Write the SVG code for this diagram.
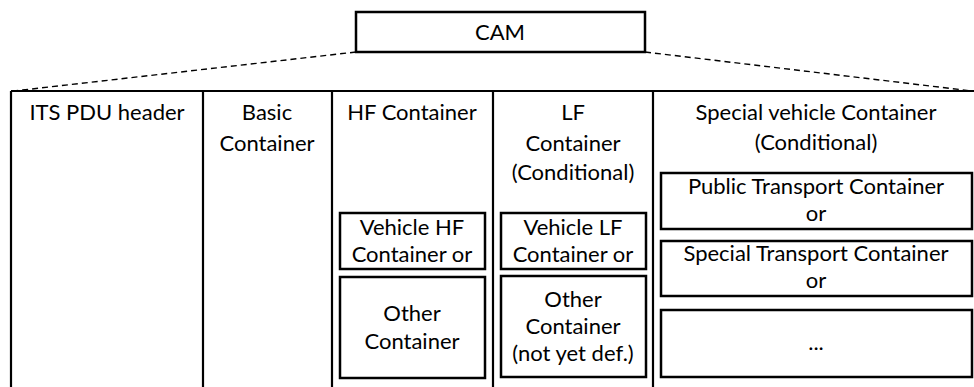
<svg xmlns="http://www.w3.org/2000/svg" width="974" height="387" viewBox="0 0 974 387">
<style>
.box{fill:#fff;stroke:#000;stroke-width:2.5}
.line{fill:none;stroke:#000;stroke-width:2.2}
.dash{fill:none;stroke:#000;stroke-width:1.4;stroke-dasharray:6 4}
text{font-family:Lato,"Open Sans",sans-serif;font-size:22px;fill:#000;text-anchor:middle}
</style>
<rect width="974" height="387" fill="#fff"/>
<g id="connectors">
<line class="dash" x1="356" y1="52" x2="14" y2="91"/>
<line class="dash" x1="645" y1="52" x2="972" y2="91"/>
</g>
<g id="cam">
<rect class="box" x="356" y="12" width="289" height="40"/>
<text x="500" y="40">CAM</text>
</g>
<g id="table">
<path class="line" d="M11 91H976M11 91V390M203 91V390M332 91V390M493 91V390M653 91V390"/>
</g>
<g id="its-pdu-header">
<text x="107" y="120">ITS PDU header</text>
</g>
<g id="basic-container">
<text x="267" y="120">Basic</text>
<text x="267" y="151">Container</text>
</g>
<g id="hf-container">
<text x="412" y="120">HF Container</text>
</g>
<g id="vehicle-hf">
<rect class="box" x="340" y="213" width="145" height="56"/>
<text x="412" y="235">Vehicle HF</text>
<text x="412" y="262">Container or</text>
</g>
<g id="hf-other">
<rect class="box" x="340" y="277" width="145" height="101"/>
<text x="412" y="321">Other</text>
<text x="412" y="349">Container</text>
</g>
<g id="lf-container">
<text x="573" y="120">LF</text>
<text x="573" y="151">Container</text>
<text x="573" y="180">(Conditional)</text>
</g>
<g id="vehicle-lf">
<rect class="box" x="501" y="213" width="145" height="56"/>
<text x="573" y="235">Vehicle LF</text>
<text x="573" y="262">Container or</text>
</g>
<g id="lf-other">
<rect class="box" x="501" y="276" width="145" height="101"/>
<text x="573" y="307">Other</text>
<text x="573" y="334">Container</text>
<text x="573" y="361">(not yet def.)</text>
</g>
<g id="special-vehicle-container">
<text x="816" y="120">Special vehicle Container</text>
<text x="816" y="150">(Conditional)</text>
</g>
<g id="public-transport">
<rect class="box" x="661" y="173" width="311" height="56"/>
<text x="816" y="194">Public Transport Container</text>
<text x="816" y="221">or</text>
</g>
<g id="special-transport">
<rect class="box" x="661" y="241" width="311" height="55"/>
<text x="816" y="261">Special Transport Container</text>
<text x="816" y="288">or</text>
</g>
<g id="other-special">
<rect class="box" x="661" y="310" width="311" height="67"/>
<text x="816" y="350">...</text>
</g>
</svg>
